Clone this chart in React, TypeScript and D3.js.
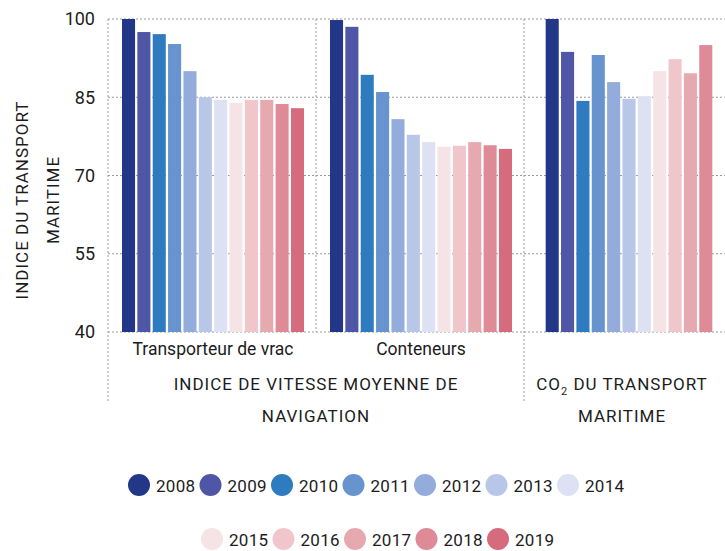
import * as d3 from 'd3'

// years shown as bars + legend
const years = ['2008', '2009', '2010', '2011', '2012', '2013', '2014', '2015', '2016', '2017', '2018', '2019']
const yearColors = ['#233789', '#4e56a5', '#2f7bc0', '#6793ce', '#93acdb', '#b8c6e7', '#dde1f4', '#f6e3e6', '#f0c6cb', '#e7a9b0', '#de8a97', '#d56b7d']

// index values (2008 = 100)
const vracValues = [100, 97.5, 97.1, 95.2, 90.0, 85.0, 84.5, 83.9, 84.5, 84.5, 83.7, 82.9]
const conteneursValues = [99.8, 98.5, 89.3, 86.0, 80.8, 77.8, 76.4, 75.5, 75.7, 76.4, 75.8, 75.1]
const co2Values = [100, 93.7, 84.3, 93.1, 87.9, 84.7, 85.2, 90.0, 92.3, 89.6, 95.0] // no 2019

const categories = ['vrac', 'conteneurs', 'co2']
const categoryLabels = ['Transporteur de vrac', 'Conteneurs', '']
const yTicks = [40, 55, 70, 85, 100]

const W = 725
const H = 551
const margin = { top: 19, left: 108, bottom: 332 }
const groupW = 208
const grid = '#9a9a9a'
const ink = '#1c1c1c'
const font = 'Roboto, "Noto Sans", sans-serif'

export default function App() {
  const y = d3.scaleLinear().domain([40, 100]).range([margin.bottom, margin.top])
  const x0 = d3.scaleBand().domain(categories).range([margin.left, margin.left + groupW * 3])

  const seriesByCat = [vracValues, conteneursValues, co2Values]
  const p = 0.15
  const fullSpan = 182
  const step = fullSpan / (12 - p)

  const bars = categories.flatMap((c, gi) => {
    const vals = seriesByCat[gi]
    const present = years.slice(0, vals.length)
    const span = step * (present.length - p)
    const cx = (x0(c) as number) + x0.bandwidth() / 2 + 1
    const inner = d3.scaleBand().domain(present).range([cx - span / 2, cx + span / 2]).paddingInner(p)
    return vals.map((v, i) => ({
      key: `${c}-${present[i]}`,
      x: inner(present[i]) as number,
      w: inner.bandwidth(),
      y: y(v),
      h: y(40) - y(v),
      color: yearColors[i],
    }))
  })

  const gx1 = x0('vrac') as number
  const gx3 = x0('co2') as number
  const speedCenter = (gx1 + gx3) / 2
  const co2Center = (gx3 + 720) / 2

  const dotted = { stroke: grid, strokeWidth: 1, strokeDasharray: '2 2' }
  const row1 = years.slice(0, 7)
  const row2 = years.slice(7)

  return (
    <svg width={W} height={H} style={{ position: 'absolute', left: 0, top: 0, fontFamily: font }}>
      {/* horizontal grid */}
      {yTicks.map(t => (
        <g key={t}>
          <line x1={margin.left} x2={W} y1={y(t)} y2={y(t)} {...dotted} />
          <text x={95} y={y(t)} dy="0.36em" textAnchor="end" fontSize={18} fill={ink}>{t}</text>
        </g>
      ))}
      {/* vertical separators */}
      <line x1={margin.left} x2={margin.left} y1={margin.top} y2={401} {...dotted} />
      <line x1={x0('conteneurs')} x2={x0('conteneurs')} y1={margin.top} y2={margin.bottom} {...dotted} />
      <line x1={gx3} x2={gx3} y1={margin.top} y2={401} {...dotted} />

      {bars.map(b => (
        <rect key={b.key} x={b.x} y={b.y} width={b.w} height={b.h} fill={b.color} />
      ))}

      {/* category labels */}
      {categories.map((c, i) => (
        <text key={c} x={(x0(c) as number) + x0.bandwidth() / 2 + 1} y={355} textAnchor="middle" fontSize={17.5} fill={ink}>
          {categoryLabels[i]}
        </text>
      ))}

      {/* group labels */}
      <g fontSize={17} letterSpacing={1} fill={ink} textAnchor="middle">
        <text x={speedCenter} y={390}>INDICE DE VITESSE MOYENNE DE</text>
        <text x={speedCenter} y={422}>NAVIGATION</text>
        <text x={co2Center} y={390}>
          CO<tspan fontSize={11} dy={5}>2</tspan><tspan dy={-5}> DU TRANSPORT</tspan>
        </text>
        <text x={co2Center} y={422}>MARITIME</text>
      </g>

      {/* y title */}
      <g transform="translate(0,200) rotate(-90)" fontSize={17} letterSpacing={1} fill={ink} textAnchor="middle">
        <text x={0} y={28}>INDICE DU TRANSPORT</text>
        <text x={0} y={59}>MARITIME</text>
      </g>

      {/* legend */}
      {[row1, row2].map((row, ri) => {
        const start = ri === 0 ? 139 : 212
        const cy = ri === 0 ? 485 : 539
        return row.map((yr, i) => {
          const cx = start + i * 71.5
          return (
            <g key={yr}>
              <circle cx={cx} cy={cy} r={11} fill={yearColors[years.indexOf(yr)]} />
              <text x={cx + 17} y={cy + 6.5} fontSize={17} letterSpacing={0.3} fill={ink}>{yr}</text>
            </g>
          )
        })
      })}
    </svg>
  )
}
